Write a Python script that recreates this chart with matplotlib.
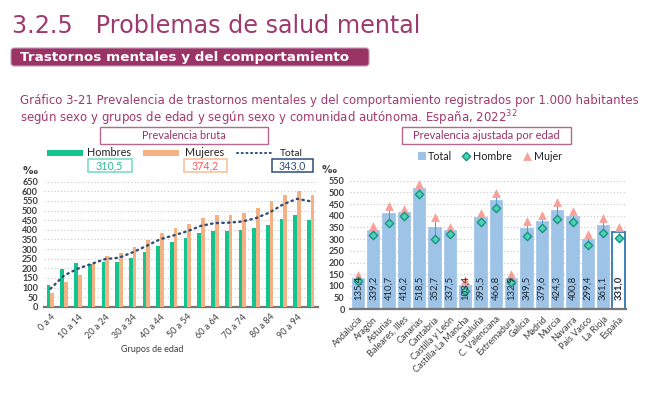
import matplotlib
matplotlib.use("Agg")
import matplotlib.pyplot as plt
from matplotlib.patches import Rectangle, FancyBboxPatch
from matplotlib.lines import Line2D
import numpy as np

# ---------------- data ----------------
age_groups = ["0 a 4", "5 a 9", "10 a 14", "15 a 19", "20 a 24", "25 a 29", "30 a 34",
              "35 a 39", "40 a 44", "45 a 49", "50 a 54", "55 a 59", "60 a 64", "65 a 69",
              "70 a 74", "75 a 79", "80 a 84", "85 a 89", "90 a 94", "95 y más"]
hombres = [114, 199, 228, 223, 234, 232, 255, 283, 315, 335, 357, 384, 395, 394, 398, 410, 426, 456, 475, 450]
mujeres = [74, 128, 167, 223, 264, 278, 311, 348, 385, 408, 431, 460, 476, 478, 489, 513, 548, 582, 600, 583]
total = [94, 163, 198, 223, 248, 255, 283, 316, 351, 371, 393, 421, 435, 437, 443, 461, 490, 533, 561, 548]
summary_labels = ["310,5", "374,2", "343,0"]

regions = ["Andalucía", "Aragón", "Asturias", "Baleares, Illes", "Canarias", "Cantabria",
           "Castilla y León", "Castilla-La Mancha", "Cataluña", "C. Valenciana", "Extremadura",
           "Galicia", "Madrid", "Murcia", "Navarra", "País Vasco", "La Rioja", "España"]
total_aj = [135.4, 339.2, 410.7, 416.2, 518.5, 352.7, 337.5, 103.4, 395.5, 466.8, 132.9,
            349.5, 379.6, 424.3, 400.8, 299.4, 361.1, 331.0]
hombre_aj = [122, 317, 370, 399, 491, 302, 322, 80, 372, 433, 118, 313, 349, 387, 375, 275, 327, 303]
mujer_aj = [147, 356, 443, 429, 538, 396, 350, 125, 413, 496, 150, 379, 403, 457, 421, 322, 389, 353]

# ---------------- style ----------------
GREEN = "#13C48F"
ORANGE = "#F4B183"
BLUE = "#9DC3E6"
NAVY = "#2E4D7B"
PURPLE = "#A0396E"
BANNER = "#9A3366"
TICKC = "#404040"
GRIDC = "#C8C8C8"
CHARTFONT = ["Lato", "DejaVu Sans"]

W, H = 660, 407
fig = plt.figure(figsize=(6.6, 4.07), dpi=100)


def rect(x0, y0, x1, y1):
    return [x0 / W, 1 - y1 / H, (x1 - x0) / W, (y1 - y0) / H]


ov = fig.add_axes([0, 0, 1, 1], zorder=-1)
ov.set_xlim(0, W)
ov.set_ylim(H, 0)
ov.axis("off")

renderer = fig.canvas.get_renderer()


def fit(t, width_px):
    bb = t.get_window_extent(renderer)
    t.set_fontsize(t.get_fontsize() * width_px / bb.width)
    return t


# ---------------- header ----------------
t = ov.text(12, 33, "3.2.5   Problemas de salud mental", color=PURPLE, fontsize=20,
            family="DejaVu Sans", va="baseline", ha="left")
fit(t, 408)
ov.add_patch(FancyBboxPatch((11, 48), 358, 18, boxstyle="round,pad=0,rounding_size=3",
                            facecolor=BANNER, edgecolor="#C79AB0", lw=0.8))
t = ov.text(20, 57.5, "Trastornos mentales y del comportamiento", color="white",
            fontsize=10, weight="bold", family="DejaVu Sans", va="center", ha="left")
fit(t, 328)
t = ov.text(20, 104, "Gráfico 3-21 Prevalencia de trastornos mentales y del comportamiento registrados por 1.000 habitantes",
            color=PURPLE, fontsize=9, family="DejaVu Sans", va="baseline", ha="left")
fit(t, 617)
ov.text(20, 122, "según sexo y grupos de edad y según sexo y comunidad autónoma. España, 2022$^{32}$",
        color=PURPLE, fontsize=t.get_fontsize(), family="DejaVu Sans", va="baseline", ha="left")

# ---------------- left chart ----------------
axL = fig.add_axes(rect(43.6, 181.7, 317.6, 306.8))
x = np.arange(len(age_groups))
axL.bar(x - 0.135, hombres, width=0.27, color=GREEN, zorder=3)
axL.bar(x + 0.135, mujeres, width=0.27, color=ORANGE, zorder=3)
axL.plot(x, total, color=NAVY, lw=1.7, linestyle=(0, (0.6, 1.8)), dash_capstyle="round", zorder=4)
axL.set_xlim(-0.5, len(age_groups) - 0.5)
axL.set_ylim(0, 650)
axL.set_yticks(np.arange(0, 651, 50))
axL.yaxis.grid(True, linestyle=(0, (1, 2)), color=GRIDC, lw=0.8, zorder=0)
axL.set_xticks(x[::2])
axL.set_xticklabels(age_groups[::2], rotation=45, ha="right", rotation_mode="anchor",
                    fontsize=6.5, color=TICKC, family=CHARTFONT)
for lab in axL.get_yticklabels():
    lab.set_fontsize(6.6)
    lab.set_color(TICKC)
    lab.set_family(CHARTFONT)
    lab.set_weight("bold")
axL.tick_params(length=0, pad=4)
axL.tick_params(axis="x", pad=4)
for s in ["left", "right", "top"]:
    axL.spines[s].set_visible(False)
axL.spines["bottom"].set_color("#767676")
axL.spines["bottom"].set_linewidth(1.6)
axL.set_facecolor("none")
ov.text(152, 349, "Grupos de edad", fontsize=6.5, color=TICKC, family=CHARTFONT, ha="center", va="center")
ov.text(30, 171, "‰", fontsize=7.5, weight="bold", color=TICKC, ha="center", va="center", family="DejaVu Sans")

# left title box & legend
ov.add_patch(Rectangle((99.5, 126.5), 168.5, 17.5, facecolor="white", edgecolor="#B5678F", lw=1))
fit(ov.text(183.7, 135.5, "Prevalencia bruta", color=BANNER, fontsize=9, family=CHARTFONT,
            ha="center", va="center"), 84)
ov.add_patch(Rectangle((46.7, 150), 36, 6, facecolor=GREEN, edgecolor="none"))
fit(ov.text(87.5, 153, "Hombres", fontsize=9, color="#222222", family=CHARTFONT, ha="left", va="center"), 44)
ov.add_patch(Rectangle((142.7, 150), 36.6, 6, facecolor=ORANGE, edgecolor="none"))
fit(ov.text(185, 153, "Mujeres", fontsize=9, color="#222222", family=CHARTFONT, ha="left", va="center"), 39)
ov.add_line(Line2D([237, 273], [153, 153], color=NAVY, lw=1.4, linestyle=(0, (0.6, 1.8)),
                   dash_capstyle="round"))
fit(ov.text(280, 153, "Total", fontsize=9, color="#222222", family=CHARTFONT, ha="left", va="center"), 23)
boxes = [(87.5, 131.5, "#6FDDC0", "#2AB598"), (184.3, 226.7, "#F6BE95", "#FF5A5A"), (271.7, 313.3, NAVY, NAVY)]
for (x0, x1, ec, tc), lab in zip(boxes, summary_labels):
    ov.add_patch(Rectangle((x0, 159.3), x1 - x0, 13, facecolor="white", edgecolor=ec, lw=1.1))
    fit(ov.text((x0 + x1) / 2, 166, lab, fontsize=9, color=tc, family=CHARTFONT, ha="center", va="center"), 27)

# ---------------- right chart ----------------
axR = fig.add_axes(rect(350.3, 180.7, 626.2, 309.3))
xr = np.arange(len(regions))
face = [BLUE] * (len(regions) - 1) + ["white"]
edge = [BLUE] * (len(regions) - 1) + ["#2E75B6"]
lws = [0.5] * (len(regions) - 1) + [1.3]
axR.bar(xr, total_aj, width=0.8, color=face, edgecolor=edge, linewidth=lws, zorder=2)
axR.vlines(xr, hombre_aj, mujer_aj, color="#5B9BD5", lw=0.8, zorder=3)
axR.scatter(xr, mujer_aj, marker="^", s=40, color="#F7A199", zorder=4, clip_on=False, linewidths=0)
axR.scatter(xr, hombre_aj, marker="D", s=18, facecolor="#4FD1B6", edgecolor="#17967F", linewidths=1.0,
            zorder=5, clip_on=False)
for xi, v in zip(xr, total_aj):
    last = xi == len(regions) - 1
    axR.annotate(f"{v:.1f}".replace(".", ","), xy=(xi, 0), xytext=(0, 7), textcoords="offset points",
                 rotation=90, ha="center", va="bottom", fontsize=6.8, color="#1F2A36", family=CHARTFONT,
                 weight="bold" if last else "normal", zorder=6)
axR.set_xlim(-0.5, len(regions) - 0.5)
axR.set_ylim(0, 550)
axR.set_yticks(np.arange(0, 551, 50))
axR.yaxis.grid(True, linestyle=(0, (1, 2)), color=GRIDC, lw=0.8, zorder=0)
axR.set_axisbelow(True)
axR.set_xticks(xr)
axR.set_xticklabels(regions, rotation=45, ha="right", rotation_mode="anchor",
                    fontsize=6.5, color=TICKC, family=CHARTFONT)
for lab in axR.get_yticklabels():
    lab.set_fontsize(6.6)
    lab.set_color(TICKC)
    lab.set_family(CHARTFONT)
    lab.set_weight("bold")
axR.tick_params(length=0, pad=4)
for s in ["left", "right", "top"]:
    axR.spines[s].set_visible(False)
axR.spines["bottom"].set_color("#767676")
axR.spines["bottom"].set_linewidth(1.6)
axR.set_facecolor("none")
ov.text(329, 170, "‰", fontsize=7.5, weight="bold", color=TICKC, ha="center", va="center", family="DejaVu Sans")

# right title box & legend
ov.add_patch(Rectangle((402.3, 126.7), 169, 17.6, facecolor="white", edgecolor="#B5678F", lw=1))
fit(ov.text(486.8, 135.5, "Prevalencia ajustada por edad", color=BANNER, fontsize=9, family=CHARTFONT,
            ha="center", va="center"), 146)
ov.add_patch(Rectangle((418, 152), 8, 8, facecolor=BLUE, edgecolor="none"))
fit(ov.text(428, 156, "Total", fontsize=9, color="#222222", family=CHARTFONT, ha="left", va="center"), 24)
ov.scatter([466], [156], marker="D", s=18, facecolor="#4FD1B6", edgecolor="#17967F", linewidths=1.0)
fit(ov.text(473, 156, "Hombre", fontsize=9, color="#222222", family=CHARTFONT, ha="left", va="center"), 39)
ov.scatter([527], [156], marker="^", s=40, color="#F7A199", linewidths=0)
fit(ov.text(534, 156, "Mujer", fontsize=9, color="#222222", family=CHARTFONT, ha="left", va="center"), 28)

fig.savefig("out.png", dpi=100)
